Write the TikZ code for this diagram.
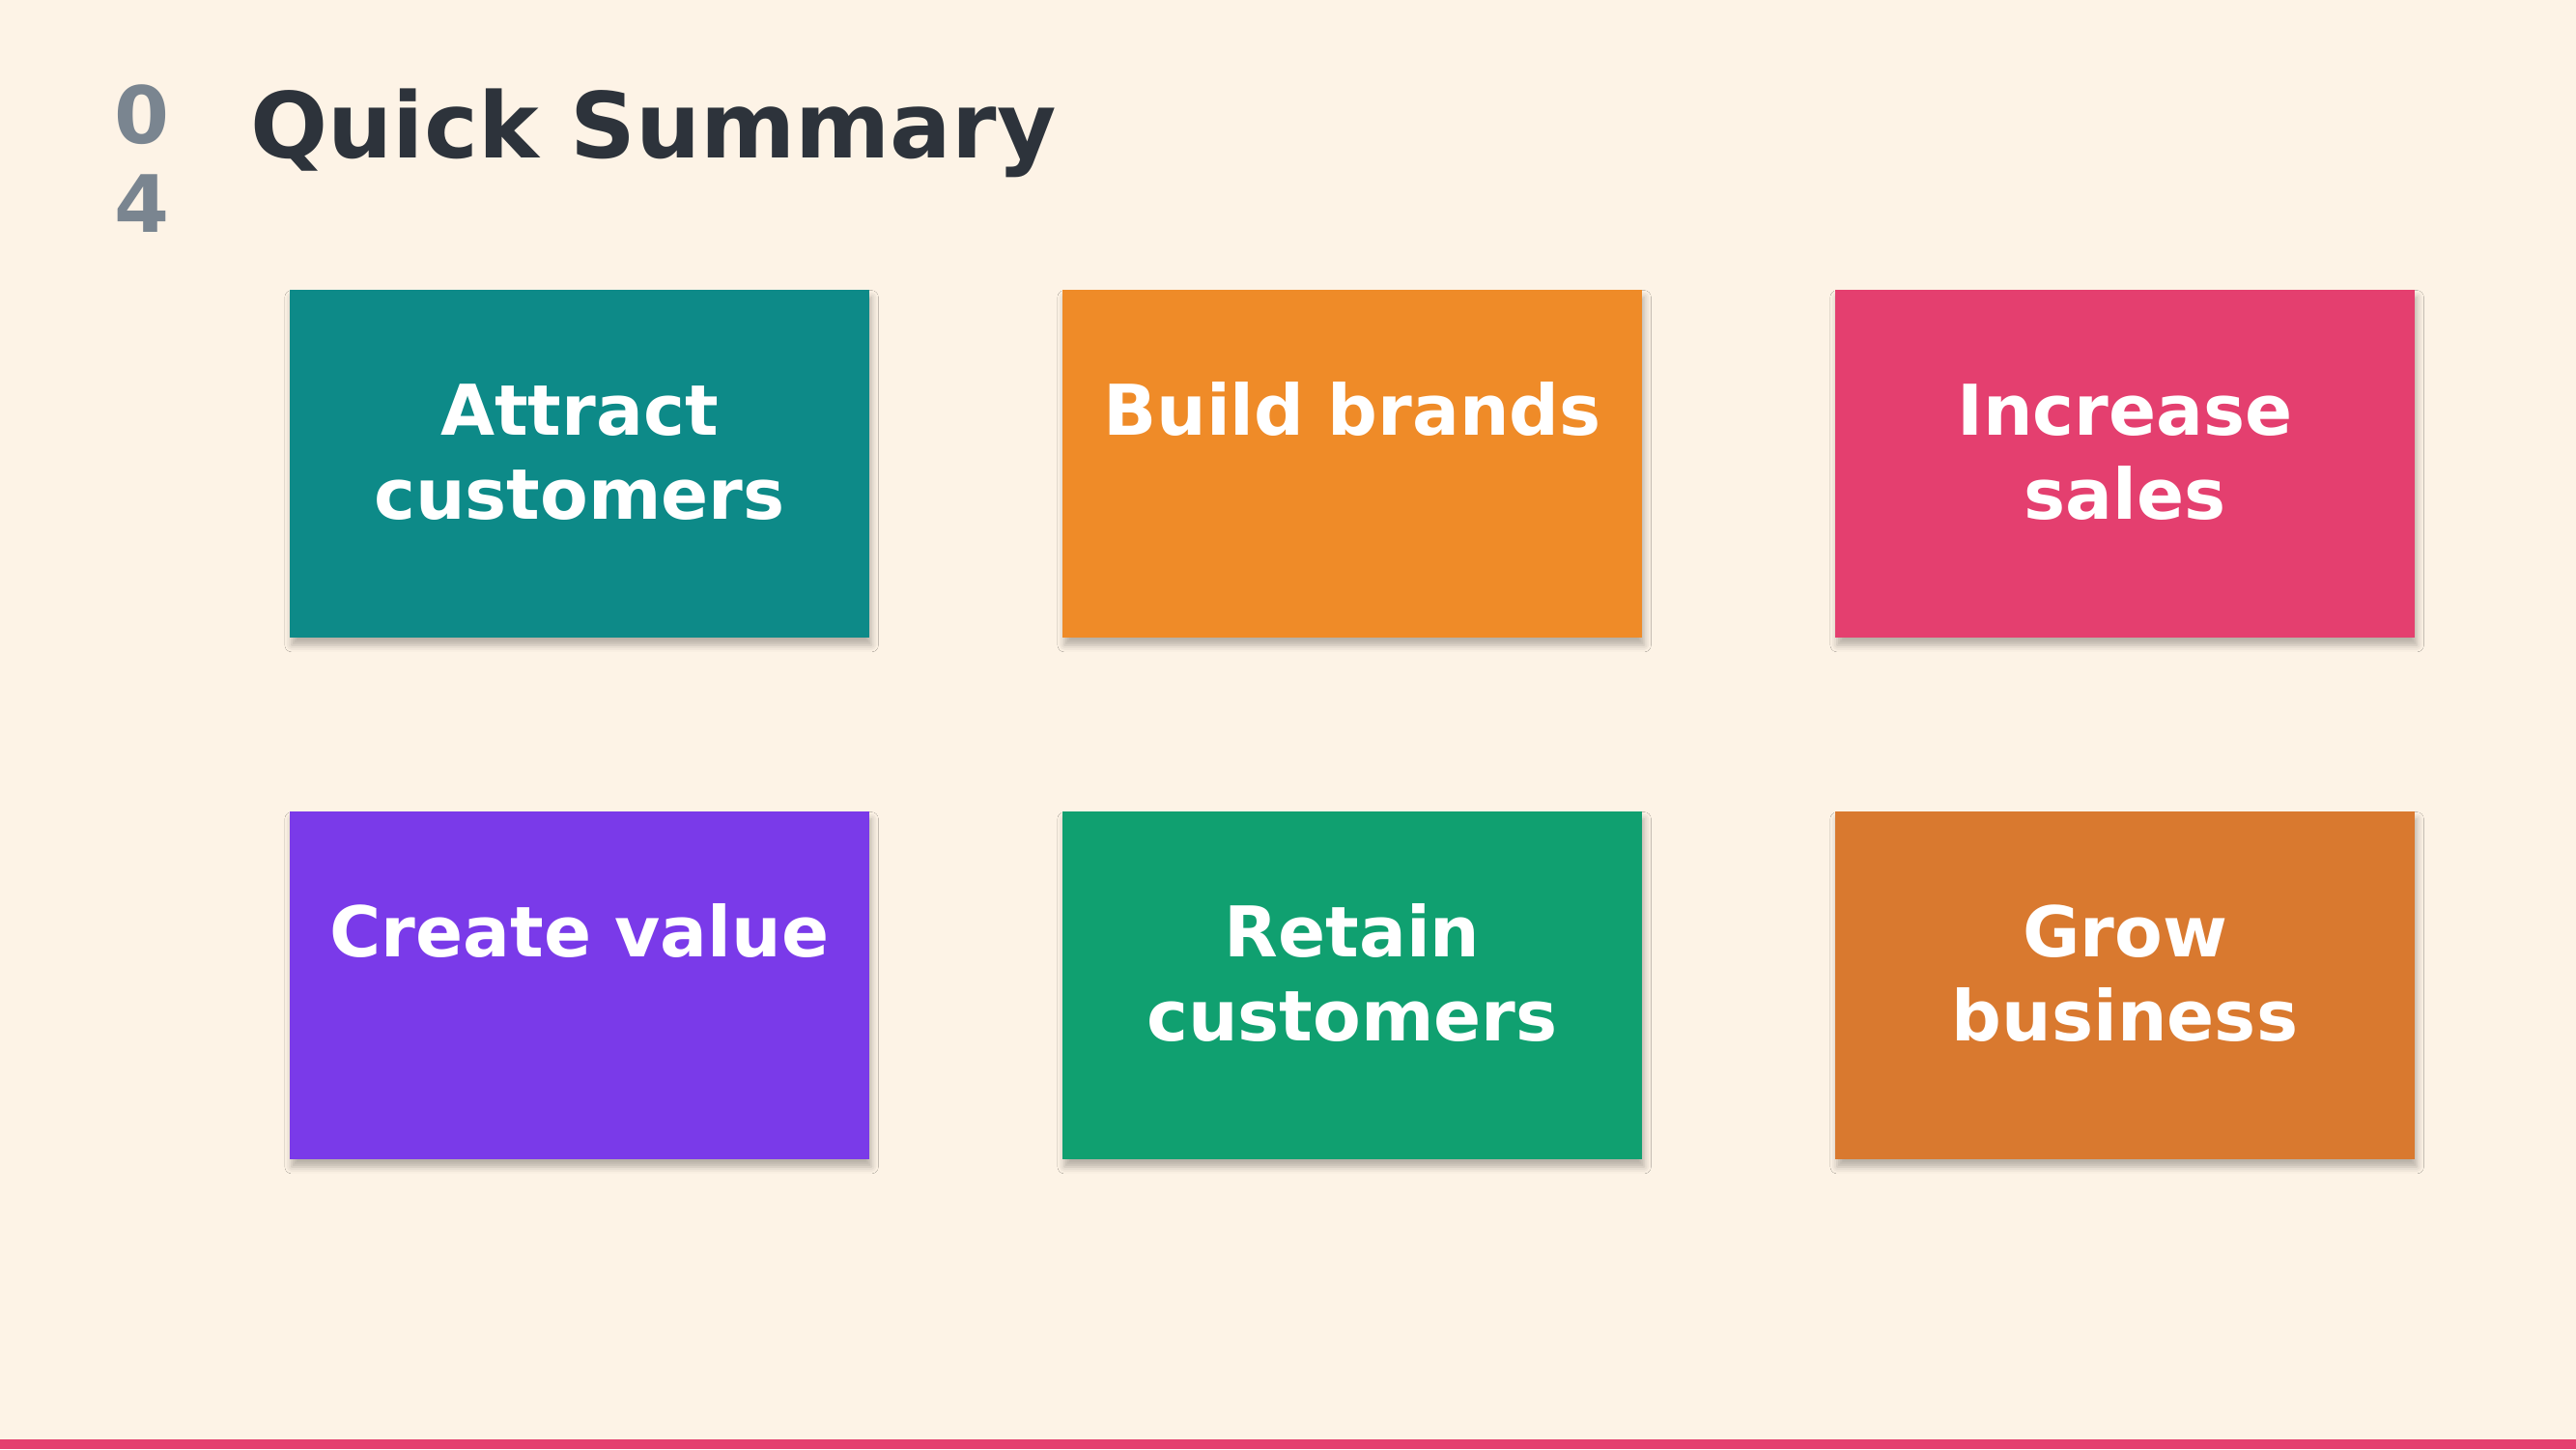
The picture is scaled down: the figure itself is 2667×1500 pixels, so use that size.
\documentclass[tikz,border=0pt]{standalone}
\usepackage{fontspec}
\setmainfont{DejaVu Sans}
\usepackage{tikz}
\usetikzlibrary{shadows.blur}

\definecolor{bgcream}{HTML}{FDF3E6}
\definecolor{titleink}{HTML}{2D333B}
\definecolor{numgray}{HTML}{7A8590}
\definecolor{cteal}{HTML}{0D8A88}
\definecolor{corange}{HTML}{EF8B28}
\definecolor{cpink}{HTML}{E43F6F}
\definecolor{cviolet}{HTML}{7A3AE9}
\definecolor{cgreen}{HTML}{10A070}
\definecolor{camber}{HTML}{D9792F}

\begin{document}
\begin{tikzpicture}[x=0.01cm, y=-0.01cm]
  \tikzstyle{card}=[rectangle, inner sep=0pt, minimum width=6cm, minimum height=3.6cm,
    blur shadow={shadow xshift=0.6pt, shadow yshift=-2.2pt, shadow blur radius=2pt, shadow opacity=28}]
  \tikzstyle{cardtext}=[text=white, anchor=base, inner sep=0pt, text width=5.8cm, align=center,
    font=\bfseries\fontsize{20.6}{24.75}\selectfont]
  \useasboundingbox (0,0) rectangle (2667,1500);
  \fill[bgcream] (0,0) rectangle (2667,1500);
  \fill[cpink] (0,1490) rectangle (2667,1500);
  % heading
  \node[anchor=base, inner sep=0pt, text width=1cm, align=center, text=numgray,
    font=\bfseries\fontsize{23.3}{25.9}\selectfont] (num) at (146.7,149) {0\\4};
  \node[anchor=base west, inner sep=0pt, text=titleink,
    font=\bfseries\fontsize{26.8}{30}\selectfont] (title) at (259,164) {Quick Summary};
  % six cards
  \foreach \n/\x/\y/\col/\txt in {1/600/480/cteal/{Attract\\customers},
      2/1400/480/corange/{Build brands},
      3/2200/480/cpink/{Increase\\sales},
      4/600/1020/cviolet/{Create value},
      5/1400/1020/cgreen/{Retain\\customers},
      6/2200/1020/camber/{Grow\\business}} {
    \node[card, fill=\col] (c\n) at (\x,\y) {};
    \node[cardtext] (t\n) at ([yshift=-151*0.01cm]c\n.north) {\txt};
  }
\end{tikzpicture}
\end{document}
